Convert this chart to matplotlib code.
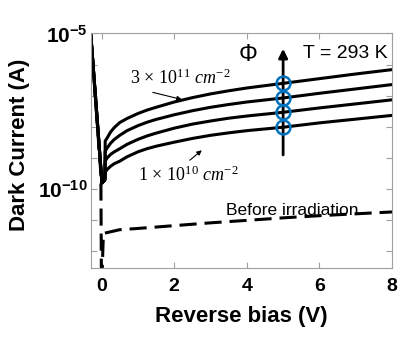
import numpy as np
import matplotlib
matplotlib.use("Agg")
import matplotlib.pyplot as plt
from matplotlib.ticker import FixedLocator, FixedFormatter

plt.rcParams['font.family'] = ['Liberation Sans', 'DejaVu Sans']
plt.rcParams['mathtext.fontset'] = 'custom'
plt.rcParams['mathtext.rm'] = 'Liberation Serif'
plt.rcParams['mathtext.it'] = 'Liberation Serif:italic'
plt.rcParams['mathtext.bf'] = 'Liberation Sans:bold'

# forward-bias spike shared by all curves (log10 of current)
spike_v = [-0.3, 0.01, 0.09]
spike_log = [-5.0, -9.8, -9.7]

# reverse bias points after the spike
bias = [0.1, 0.15, 0.25, 0.35, 0.5, 0.7, 1, 1.25, 1.5, 2, 2.5, 3, 3.5, 4, 5, 6, 7, 8]
# log10 dark current for the four fluences (highest first)
log_i_3e11 = [-8.45, -8.36, -8.16, -8.02, -7.86, -7.73, -7.57, -7.46, -7.37, -7.20,
              -7.06, -6.94, -6.84, -6.75, -6.60, -6.45, -6.30, -6.16]
log_i_2 = [-8.78, -8.68, -8.52, -8.40, -8.27, -8.12, -7.96, -7.85, -7.76, -7.61,
           -7.48, -7.37, -7.28, -7.20, -7.07, -6.92, -6.78, -6.64]
log_i_3 = [-9.10, -9.00, -8.88, -8.80, -8.70, -8.56, -8.40, -8.29, -8.20, -8.04,
           -7.91, -7.81, -7.72, -7.65, -7.53, -7.39, -7.26, -7.13]
log_i_1e10 = [-9.45, -9.37, -9.26, -9.18, -9.10, -8.96, -8.80, -8.70, -8.62, -8.49,
              -8.37, -8.27, -8.19, -8.12, -8.01, -7.87, -7.75, -7.63]

# before irradiation (dashed)
pre_v = [-0.3, -0.02, -0.005, 0.005, 0.05, 0.5, 1, 2, 3, 4, 5, 6, 7, 8]
pre_log = [-5.0, -9.5, -13.0, -13.0, -11.42, -11.30, -11.26, -11.17, -11.08, -11.0, -10.92, -10.85, -10.79, -10.73]

marker_v = 5.0
yticks_exp = list(range(-12, -4))
ytick_labels = {-5: r'$\mathbf{10^{-5}}$', -10: r'$\mathbf{10^{-10}}$'}

fig = plt.figure(figsize=(4.06, 3.38), dpi=100)
ax = fig.add_axes([0.2234, 0.2071, 0.7422, 0.6938])

curves = [log_i_3e11, log_i_2, log_i_3, log_i_1e10]
for c in curves:
    v = np.array(spike_v + bias)
    y = 10 ** np.array(spike_log + c)
    ax.plot(v, y, color='k', lw=2.2, solid_joinstyle='round')

ax.plot(pre_v, 10 ** np.array(pre_log), color='k', lw=2.2, dashes=(5.6, 2.6))

ax.set_yscale('log')
ax.set_xlim(-0.3, 8)
ax.set_ylim(10 ** -12.53, 1e-5)

# fluence arrow and markers
ax.annotate('', xy=(marker_v, 10 ** -5.49), xytext=(marker_v, 10 ** -8.9),
            arrowprops=dict(arrowstyle='-|>', lw=2, color='k', mutation_scale=13,
                            shrinkA=0, shrinkB=0))
marker_y = [10 ** np.interp(marker_v, bias, c) for c in curves]
ax.plot([marker_v] * 4, marker_y, 'o', mfc='none', mec='#0072BD', ms=10, mew=1.8, zorder=5)

ax.text(4.03, 10 ** -5.7, 'Φ', fontsize=17, ha='center', va='center')
ax.text(6.7, 10 ** -5.64, 'T = 293 K', fontsize=14, ha='center', va='center')

ax.text(2.16, 10 ** -6.44, r'$3\,\times\,10^{11}\ cm^{-2}$', fontsize=13, ha='center', va='center')
ax.annotate('', xy=(2.21, 10 ** -7.12), xytext=(1.41, 10 ** -6.89),
            arrowprops=dict(arrowstyle='-|>', lw=0.8, color='k', mutation_scale=7,
                            shrinkA=0, shrinkB=0))
ax.text(2.38, 10 ** -9.55, r'$1\,\times\,10^{10}\ cm^{-2}$', fontsize=13, ha='center', va='center')
ax.annotate('', xy=(2.76, 10 ** -8.75), xytext=(2.43, 10 ** -9.07),
            arrowprops=dict(arrowstyle='-|>', lw=0.8, color='k', mutation_scale=7,
                            shrinkA=0, shrinkB=0))

ax.text(5.24, 10 ** -10.67, 'Before irradiation', fontsize=12.5, ha='center', va='center')

# axes styling
ax.set_xticks([0, 2, 4, 6, 8])
ax.yaxis.set_major_locator(FixedLocator([10.0 ** e for e in yticks_exp]))
ax.yaxis.set_major_formatter(FixedFormatter([ytick_labels.get(e, '') for e in yticks_exp]))
ax.yaxis.set_minor_locator(FixedLocator([]))
ax.tick_params(direction='in', top=True, right=True, color='#a0a0a0', length=4, width=0.8)
ax.tick_params(axis='x', labelsize=14, pad=7)
ax.tick_params(axis='y', labelsize=15, pad=2)
for lab in ax.get_xticklabels():
    lab.set_fontweight('bold')
for s in ax.spines.values():
    s.set_color('#a0a0a0')
    s.set_linewidth(0.8)

ax.set_xlabel('Reverse bias (V)', fontsize=16, fontweight='bold')
ax.set_ylabel('Dark Current (A)', fontsize=16, fontweight='bold')
ax.xaxis.set_label_coords(0.5, -0.16)
ax.yaxis.set_label_coords(-0.2, 0.525)

fig.savefig('out.png', dpi=100)
